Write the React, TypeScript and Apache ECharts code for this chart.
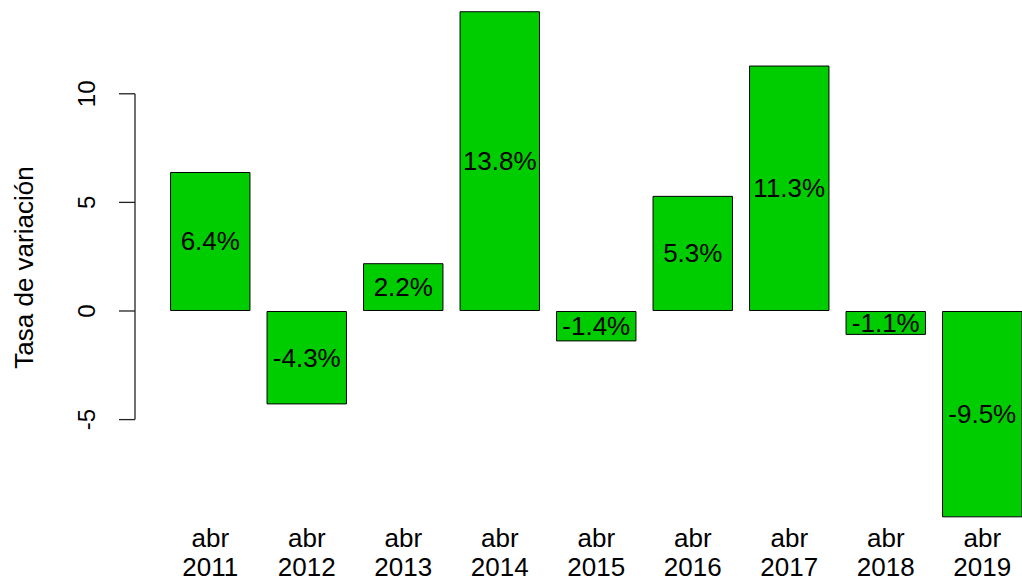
import React, { useEffect, useRef } from "react";
import * as echarts from "echarts";

const categories = ["abr\n2011", "abr\n2012", "abr\n2013", "abr\n2014", "abr\n2015", "abr\n2016", "abr\n2017", "abr\n2018", "abr\n2019"];
const values = [6.4, -4.3, 2.2, 13.8, -1.4, 5.3, 11.3, -1.1, -9.5];
const yTicks = [-5, 0, 5, 10];
const yTitle = "Tasa de variación";

const FONT = "'Liberation Sans', Arial, sans-serif";

export default function App() {
  const ref = useRef<HTMLDivElement>(null);
  useEffect(() => {
    if (!ref.current) return;
    const chart = echarts.init(ref.current, undefined, { renderer: "svg" });
    const axisShift = 27;
    chart.setOption({
      animation: false,
      backgroundColor: "#ffffff",
      textStyle: { fontFamily: FONT },
      grid: {
        left: 162,
        top: 6.9,
        width: 868.5,
        height: 521.3,
        containLabel: false,
        outerBoundsMode: "none",
      },
      xAxis: {
        type: "category",
        data: categories,
        axisLine: { show: false },
        axisTick: { show: false },
        splitLine: { show: false },
        axisLabel: {
          color: "#000",
          fontSize: 26,
          lineHeight: 29,
          fontFamily: FONT,
          margin: -5,
          interval: 0,
        },
      },
      yAxis: {
        type: "value",
        min: -10,
        max: 14,
        interval: 5,
        offset: axisShift,
        axisLine: { show: false },
        axisTick: { show: false },
        splitLine: { show: false },
        axisLabel: {
          rotate: 90,
          color: "#000",
          fontSize: 24,
          fontFamily: FONT,
          margin: 37,
          formatter: (v: number) => (yTicks.indexOf(v) >= 0 ? String(v) : ""),
        },
        name: yTitle,
        nameLocation: "middle",
        nameRotate: 90,
        nameGap: 98,
        nameTextStyle: { color: "#000", fontSize: 26, fontFamily: FONT },
      },
      series: [
        {
          type: "bar",
          data: values,
          barCategoryGap: "16.67%",
          itemStyle: { color: "#00CD00", borderColor: "#000", borderWidth: 1 },
          label: {
            show: true,
            position: "inside",
            color: "#000",
            fontSize: 26,
            fontFamily: FONT,
            formatter: (p: any) => p.value.toFixed(1) + "%",
          },
        },
        {
          type: "custom",
          silent: true,
          clip: false,
          data: [[0, 0]],
          renderItem: (params: any, api: any) => {
            const x = params.coordSys.x - axisShift;
            const yTop = api.coord([0, yTicks[yTicks.length - 1]])[1];
            const yBot = api.coord([0, yTicks[0]])[1];
            const children: any[] = [
              {
                type: "line",
                shape: { x1: x, y1: yTop, x2: x, y2: yBot },
                style: { stroke: "#222", lineWidth: 1.3 },
              },
            ];
            yTicks.forEach((t) => {
              const y = api.coord([0, t])[1];
              children.push({
                type: "line",
                shape: { x1: x - 16, y1: y, x2: x, y2: y },
                style: { stroke: "#222", lineWidth: 1.3 },
              });
            });
            return { type: "group", children };
          },
        },
      ],
    });
    return () => chart.dispose();
  }, []);
  return (
    <div style={{ position: "fixed", left: 0, top: 0, width: 1022, height: 581, overflow: "hidden", background: "#fff" }}>
      <div ref={ref} style={{ width: 1040, height: 581 }} />
    </div>
  );
}
